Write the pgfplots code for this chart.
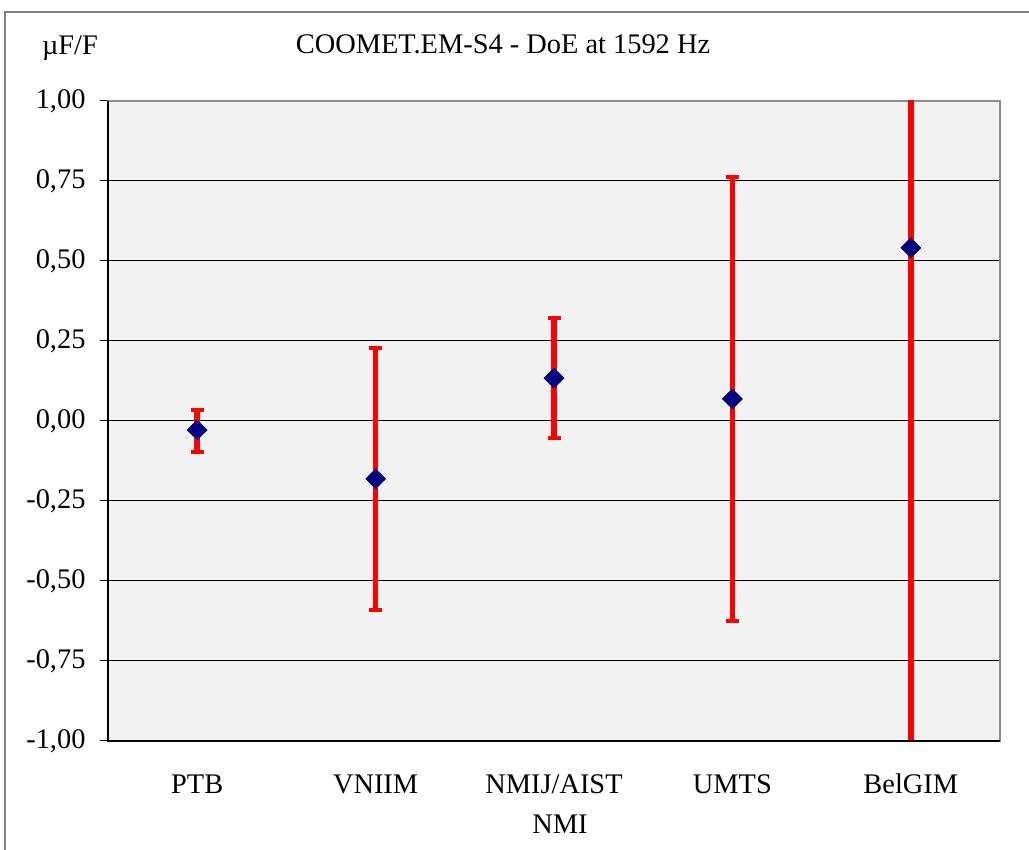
\documentclass[border=0pt]{standalone}
\usepackage{pgfplots}
\pgfplotsset{compat=1.18}
\usepackage{fontspec}
\setmainfont{Liberation Serif}
\definecolor{plotbg}{HTML}{F2F2F2}
\definecolor{marknavy}{HTML}{000080}
\newcommand{\chartfont}{\fontsize{28.5}{32}\selectfont}
\begin{document}
\begin{tikzpicture}[x=1bp,y=1bp]
\useasboundingbox (-108,-109) rectangle (921,741);
% outer frame
\draw[gray, line width=1.5bp] (-103,-130) -- (-103,729) -- (940,729);
\begin{axis}[
    name=ax,
    at={(0,0)}, anchor=south west,
    scale only axis, width=892bp, height=640bp,
    xmin=-0.5, xmax=4.5, ymin=-1, ymax=1,
    axis background/.style={fill=plotbg},
    axis line style={gray!90, line width=1.5bp},
    xtick pos=bottom, ytick pos=left,
    xtick={0,1,2,3,4},
    xticklabels={PTB,VNIIM,NMIJ/AIST,UMTS,BelGIM},
    x tick style={draw=none},
    extra x ticks={0.5,1.5,2.5,3.5},
    extra x tick labels={},
    extra x tick style={tick align=inside, major tick length=9bp, tick style={black, line width=1bp}},
    ytick={-1,-0.75,-0.5,-0.25,0,0.25,0.5,0.75,1},
    yticklabels={{-1,00},{-0,75},{-0,50},{-0,25},{0,00},{0,25},{0,50},{0,75},{1,00}},
    y tick style={black, line width=1bp},
    tick align=outside, major tick length=8bp,
    ymajorgrids, grid style={black, line width=1bp},
    xticklabel style={font=\chartfont, anchor=base, yshift=-44bp},
    yticklabel style={font=\chartfont, xshift=-11bp},
    error bars/error bar style={red, line width=5.5bp},
    error bars/error mark options={red, rotate=90, mark size=6.5bp, line width=4.5bp},
]
\addplot[only marks, mark=square*, mark size=7bp,
    mark options={rotate=45, fill=marknavy, draw=marknavy},
    error bars/.cd, y dir=both, y explicit]
coordinates {
    (0,-0.028) += (0,0.062) -= (0,0.069)
    (1,-0.181) += (0,0.409) -= (0,0.410)
    (2,0.134) += (0,0.188) -= (0,0.187)
    (3,0.069) += (0,0.694) -= (0,0.694)
    (4,0.541) += (0,1.600) -= (0,1.600)
};
% redraw the points on top of the bars
\addplot[only marks, mark=square*, mark size=7bp,
    mark options={rotate=45, fill=marknavy, draw=marknavy}]
coordinates {(0,-0.028) (1,-0.181) (2,0.134) (3,0.069) (4,0.541)};
\end{axis}
\draw[black, line width=1.5bp] (ax.north west) -- (ax.south west) -- (ax.south east);
\node[font=\chartfont] at (395,697) {COOMET.EM-S4 - DoE at 1592 Hz};
\node[font=\chartfont] at (-38,693) {µF/F};
\node[font=\chartfont] at (452,-83) {NMI};
\end{tikzpicture}
\end{document}
